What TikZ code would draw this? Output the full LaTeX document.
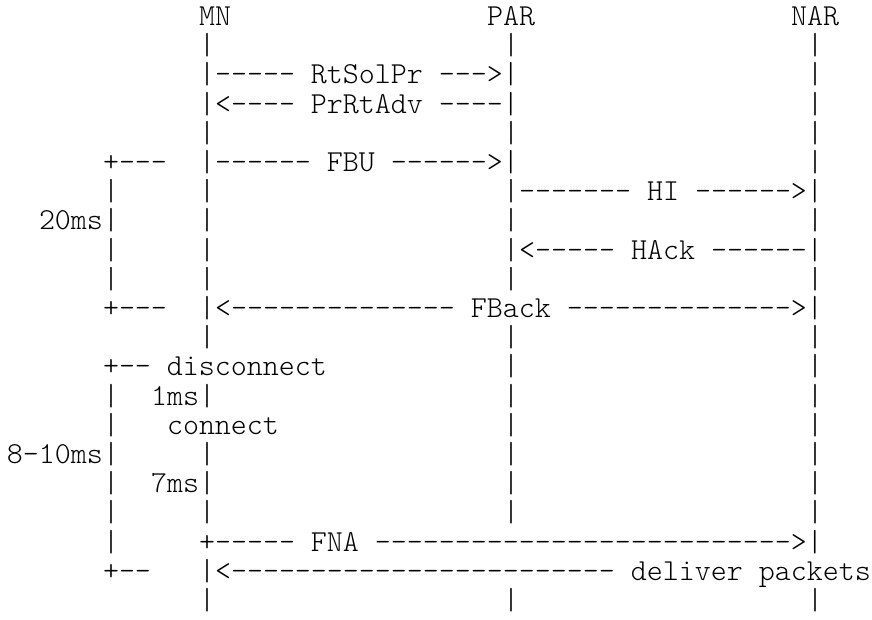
\documentclass[tikz,border=0pt]{standalone}
\usepackage{tikz}
\font\artfont="[lmmonolt10-regular]" at 22.857pt
\tikzset{
  art/.style={
    font=\artfont, inner sep=0pt, outer sep=0pt, anchor=base west,
  },
}
\begin{document}
\begin{tikzpicture}[x=12pt, y=-21.9pt]
                \useasboundingbox (-5.25pt,19.125pt) rectangle (648.75pt,-445.125pt);

                \node[art] (mn)  at (12, 0) {MN};
                \node[art] (par) at (30, 0) {PAR};
                \node[art] (nar) at (49, 0) {NAR};

                \foreach \r in {6,7,8,9,13,14,15,16,17,18}
                    \node[art] (timebar\r) at (6, \r) {|};
                \foreach \r in {1,4,6,7,8,9,11,13,15,16,17,20}
                    \node[art] (mnbar\r) at (12, \r) {|};
                \foreach \r in {1,4,7,9,11,12,13,14,15,16,17,20}
                    \node[art] (parbar\r) at (31, \r) {|};
                \foreach \r in {1,2,3,4,5,7,9,11,12,13,14,15,16,17,20}
                    \node[art] (narbar\r) at (50, \r) {|};

                \node[art] (rtsolpr) at (12, 2)  {|----- RtSolPr --->|};
                \node[art] (prrtadv) at (12, 3)  {|<---- PrRtAdv ----|};
                \node[art] (fbu)     at (12, 5)  {|------ FBU ------>|};
                \node[art] (hi)      at (31, 6)  {|------- HI ------>|};
                \node[art] (hack)    at (31, 8)  {|<----- HAck ------|};
                \node[art] (fback)   at (12, 10) {|<-------------- FBack -------------->|};
                \node[art] (fna)     at (12, 18) {+----- FNA -------------------------->|};
                \node[art] (deliver) at (12, 19) {|<------------------------ deliver packets};

                \node[art] (fbustart)   at (6, 5)  {+---};
                \node[art] (twentyms)   at (2, 7)  {20ms};
                \node[art] (fbackend)   at (6, 10) {+---};
                \node[art] (disconnect) at (6, 12) {+-- disconnect};
                \node[art] (onems)      at (9, 13) {1ms};
                \node[art] (connect)    at (10, 14) {connect};
                \node[art] (eighttenms) at (0, 15) {8-10ms};
                \node[art] (sevenms)    at (9, 16) {7ms};
                \node[art] (deliverend) at (6, 19) {+--};
            \end{tikzpicture}
\end{document}
